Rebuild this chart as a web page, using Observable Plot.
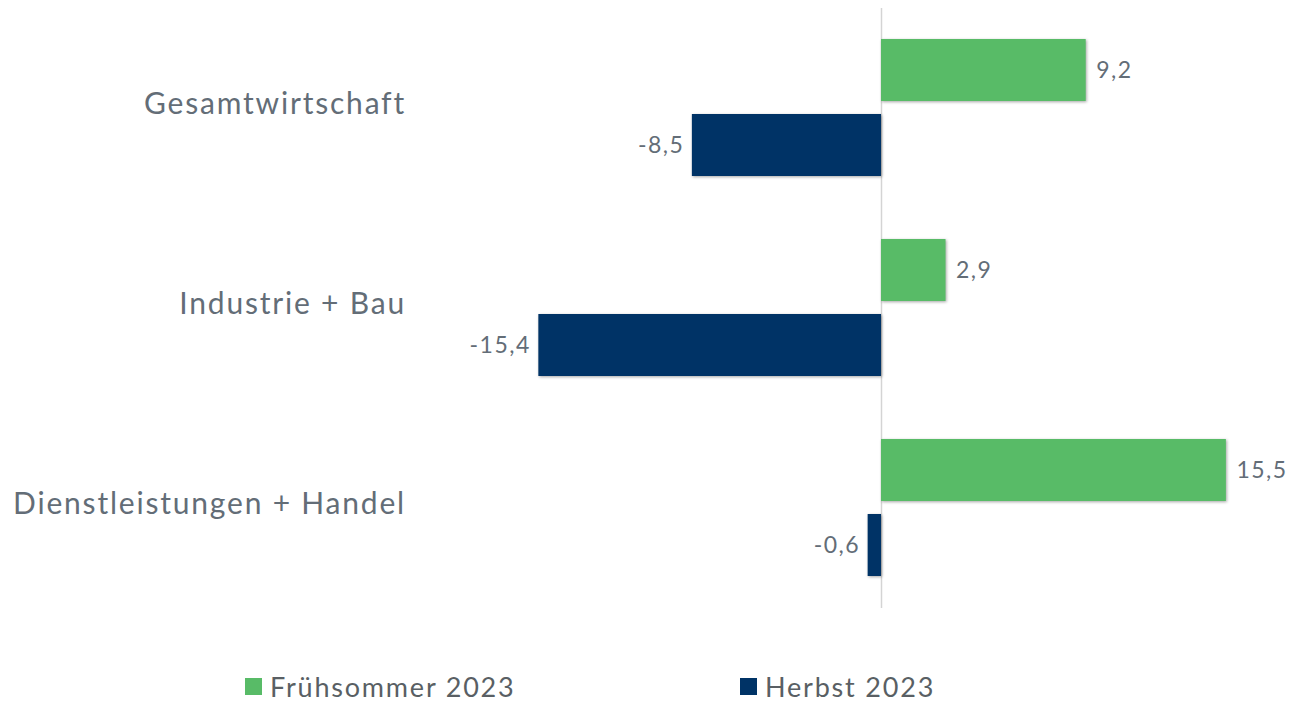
<!DOCTYPE html>
<html>
<head>
<meta charset="utf-8">
<script src="https://cdn.jsdelivr.net/npm/d3@7"></script>
<script src="https://cdn.jsdelivr.net/npm/@observablehq/plot@0.6"></script>
<style>
  html, body { margin: 0; padding: 0; background: #fff; }
  body { width: 1289px; height: 704px; position: relative; overflow: hidden; font-family: Lato, "Open Sans", sans-serif; }
  #chart { position: absolute; left: 0; top: 0; }
  #chart g[aria-label="fy-axis tick label"] text { letter-spacing: 1.8px; }
  #chart g[aria-label="text"] text { letter-spacing: 1.5px; }
  g[aria-label="bar"] rect { filter: drop-shadow(1.5px 1.5px 1.5px rgba(0,0,0,0.35)); }
  .legend { position: absolute; top: 670px; left: 0; width: 1289px; height: 36px; }
  .legend .item { position: absolute; top: 0; display: flex; align-items: center; font-size: 27px; color: #595f64; letter-spacing: 1.8px; }
  .legend .sw { width: 17px; height: 17px; margin-right: 8px; }
</style>
</head>
<body>
<div id="chart"></div>
<div class="legend" id="legend"></div>
<script>
const categories = ["Gesamtwirtschaft", "Industrie + Bau", "Dienstleistungen + Handel"];
const series = ["Frühsommer 2023", "Herbst 2023"];
const fruehsommer = [9.2, 2.9, 15.5];
const herbst = [-8.5, -15.4, -0.6];
const colors = ["#58bb67", "#003366"];

const valuesBySeries = [fruehsommer, herbst];
const data = [];
categories.forEach((c, i) => {
  series.forEach((s, j) => data.push({category: c, series: s, value: valuesBySeries[j][i]}));
});
const fmt = v => v.toFixed(1).replace(".", ",");
const textColor = "#636d77";

const chart = Plot.plot({
  width: 1289,
  height: 630,
  marginTop: 8,
  marginBottom: 22,
  marginLeft: 480.5,
  marginRight: 29.75,
  style: {fontFamily: "Lato, 'Open Sans', sans-serif", background: "#fff"},
  x: {domain: [-18, 17], axis: null},
  y: {domain: series, axis: null, paddingInner: 0.17, paddingOuter: 0.41},
  fy: {domain: categories, padding: 0, label: null},
  color: {domain: series, range: colors},
  marks: [
    Plot.ruleX([0], {stroke: "#d4d4d4", strokeWidth: 1.5}),
    Plot.barX(data, {x: "value", y: "series", fy: "category", fill: "series"}),
    Plot.text(data.filter(d => d.value >= 0), {x: "value", y: "series", fy: "category", text: d => fmt(d.value), textAnchor: "start", dx: 10, fontSize: 23, fill: textColor}),
    Plot.text(data.filter(d => d.value < 0), {x: "value", y: "series", fy: "category", text: d => fmt(d.value), textAnchor: "end", dx: -8, fontSize: 23, fill: textColor}),
    Plot.axisFy({anchor: "left", tickSize: 0, tickPadding: 75, fontSize: 30, color: textColor, label: null, dy: -4})
  ]
});
document.getElementById("chart").appendChild(chart);

const legend = document.getElementById("legend");
const lx = [245, 740];
series.forEach((s, j) => {
  const item = document.createElement("div");
  item.className = "item";
  item.style.left = lx[j] + "px";
  const sw = document.createElement("span");
  sw.className = "sw";
  sw.style.background = colors[j];
  const t = document.createElement("span");
  t.textContent = s;
  item.appendChild(sw);
  item.appendChild(t);
  legend.appendChild(item);
});
</script>
</body>
</html>
